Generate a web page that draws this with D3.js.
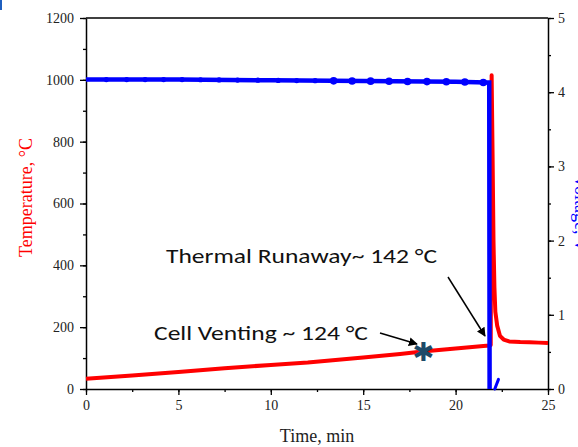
<!DOCTYPE html>
<html>
<head>
<meta charset="utf-8">
<script src="https://cdn.jsdelivr.net/npm/d3@7"></script>
<style>
  body { margin: 0; background: #fff; }
  svg { display: block; }
</style>
</head>
<body>
<div id="chart"></div>
<script>
// temperature trace (min, °C)
const tempTime = [0, 2.5, 5, 7.5, 10, 12, 13.5, 15, 17, 18.2, 20, 21.5, 21.85, 21.9, 21.95, 22.0, 22.05, 22.1, 22.15, 22.25, 22.4, 22.6, 22.9, 23.5, 24, 24.5, 25];
const tempVal  = [33, 44, 55, 67, 78, 86, 94, 102, 113, 121, 131, 139, 141, 142, 1015, 760, 480, 330, 250, 205, 172, 160, 154, 152, 151, 150, 149];

// voltage trace (min, V)
const voltTime = [0, 5, 10, 15, 20, 21.7, 21.82, 21.84];
const voltVal  = [4.17, 4.17, 4.16, 4.15, 4.14, 4.13, 4.13, 0];
const voltTail = [[22.12, 0], [22.32, 0.13]];
const markerTime = [1.1, 2.2, 3.2, 4.2, 5.2, 6.2, 7.2, 8.2, 9.3, 10.4, 11.4, 12.4, 13.4, 14.4, 15.4, 16.4, 17.4, 18.45, 19.5, 20.5, 21.5];

const xTicks = [0, 5, 10, 15, 20, 25];
const yTicks = [0, 200, 400, 600, 800, 1000, 1200];
const y2Ticks = [0, 1, 2, 3, 4, 5];

const W = 578, H = 447;
const margin = { left: 86, right: 30, top: 18, bottom: 58 };

const svg = d3.select('#chart').append('svg')
    .attr('width', W).attr('height', H);

const x = d3.scaleLinear().domain([0, 25]).range([margin.left, W - margin.right]);
const y = d3.scaleLinear().domain([0, 1200]).range([H - margin.bottom, margin.top]);
const y2 = d3.scaleLinear().domain([0, 5]).range([H - margin.bottom, margin.top]);

const serif = '"Liberation Serif", "Times New Roman", serif';
const fmt = d3.format('d');

// small blue mark in the corner
svg.append('rect').attr('x', 0).attr('y', 0).attr('width', 2).attr('height', 10).attr('fill', '#1f5fbf');

// frame
svg.append('line')
    .attr('x1', x(0)).attr('x2', x(25)).attr('y1', y(1200)).attr('y2', y(1200))
    .attr('stroke', '#000').attr('stroke-width', 1.5);

function styleAxis(g) {
    g.select('.domain').attr('stroke', '#000').attr('stroke-width', 1.5);
    g.selectAll('.tick line').attr('stroke', '#000').attr('stroke-width', 1.3);
    g.selectAll('text').style('font-family', serif).style('font-size', '14px').attr('fill', '#222');
}

// minor ticks
const minorX = d3.range(0, 25.01, 2.5);
const minorY = d3.range(0, 1200.1, 100);
const minorY2 = d3.range(0, 5.01, 0.5);

svg.append('g').attr('transform', `translate(0,${y(0)})`)
    .call(d3.axisBottom(x).tickValues(minorX).tickSize(3).tickFormat(''))
    .call(g => { g.select('.domain').remove(); g.selectAll('line').attr('stroke', '#000').attr('stroke-width', 1.3); });
svg.append('g').attr('transform', `translate(${x(0)},0)`)
    .call(d3.axisLeft(y).tickValues(minorY).tickSize(3).tickFormat(''))
    .call(g => { g.select('.domain').remove(); g.selectAll('line').attr('stroke', '#000').attr('stroke-width', 1.3); });
svg.append('g').attr('transform', `translate(${x(25)},0)`)
    .call(d3.axisRight(y2).tickValues(minorY2).tickSize(3).tickFormat(''))
    .call(g => { g.select('.domain').remove(); g.selectAll('line').attr('stroke', '#000').attr('stroke-width', 1.3); });

svg.append('g').attr('transform', `translate(0,${y(0)})`)
    .call(d3.axisBottom(x).tickValues(xTicks).tickFormat(fmt).tickSize(6).tickPadding(5).tickSizeOuter(0))
    .call(styleAxis);
svg.append('g').attr('transform', `translate(${x(0)},0)`)
    .call(d3.axisLeft(y).tickValues(yTicks).tickFormat(fmt).tickSize(6).tickPadding(6).tickSizeOuter(0))
    .call(styleAxis);
svg.append('g').attr('transform', `translate(${x(25)},0)`)
    .call(d3.axisRight(y2).tickValues(y2Ticks).tickFormat(fmt).tickSize(6).tickPadding(4).tickSizeOuter(0))
    .call(styleAxis);

// axis titles
svg.append('text')
    .attr('x', (x(0) + x(25)) / 2).attr('y', 442)
    .attr('text-anchor', 'middle')
    .style('font-family', serif).style('font-size', '18px').attr('fill', '#222')
    .text('Time, min');
svg.append('text')
    .attr('transform', `translate(32,${(y(0) + y(1200)) / 2 - 6}) rotate(-90)`)
    .attr('text-anchor', 'middle')
    .style('font-family', serif).style('font-size', '18px').attr('fill', '#ff0000')
    .text('Temperature, °C');
svg.append('text')
    .attr('transform', `translate(575,${(y(0) + y(1200)) / 2 + 10}) rotate(90)`)
    .attr('text-anchor', 'middle')
    .style('font-family', serif).style('font-size', '18px').attr('fill', '#0000ff')
    .text('Voltage, V');

// temperature line
const tempData = tempTime.map((t, i) => [t, tempVal[i]]);
svg.append('path')
    .datum(tempData)
    .attr('fill', 'none').attr('stroke', '#ff0000').attr('stroke-width', 4)
    .attr('stroke-linejoin', 'round')
    .attr('d', d3.line().x(d => x(d[0])).y(d => y(d[1])));

// voltage line
const voltData = voltTime.map((t, i) => [t, voltVal[i]]);
const vline = d3.line().x(d => x(d[0])).y(d => y2(d[1]));
svg.append('path')
    .datum(voltData)
    .attr('fill', 'none').attr('stroke', '#0000ff').attr('stroke-width', 4.5)
    .attr('d', vline);
svg.append('path')
    .datum(voltTail)
    .attr('fill', 'none').attr('stroke', '#0000ff').attr('stroke-width', 3)
    .attr('stroke-linecap', 'round')
    .attr('d', vline);

const voltAt = d3.scaleLinear().domain(voltTime.slice(0, 6)).range(voltVal.slice(0, 6));
svg.selectAll('.vmark')
    .data(markerTime)
    .enter().append('circle')
    .attr('class', 'vmark')
    .attr('cx', d => x(d))
    .attr('cy', d => y2(voltAt(d)))
    .attr('r', d => d > 13 ? 3.8 : 2.6)
    .attr('fill', '#0000ff');

// cell venting star
svg.append('text')
    .attr('x', x(18.2) + 1).attr('y', y(124) + 10)
    .attr('text-anchor', 'middle')
    .style('font-family', '"DejaVu Sans", sans-serif').style('font-size', '26px').style('font-weight', 'bold')
    .attr('fill', '#1d4a68')
    .text('\u2731');

// annotations
svg.append('defs').append('marker')
    .attr('id', 'arrow').attr('viewBox', '0 0 10 10')
    .attr('refX', 9).attr('refY', 5)
    .attr('markerWidth', 9).attr('markerHeight', 9)
    .attr('markerUnits', 'userSpaceOnUse')
    .attr('orient', 'auto')
    .append('path').attr('d', 'M0,0 L10,5 L0,10 z').attr('fill', '#000');

const calibri = 'Carlito, Calibri, "Open Sans", sans-serif';
svg.append('text')
    .attr('x', 166).attr('y', 263)
    .style('font-family', calibri).style('font-size', '20px').attr('fill', '#111')
    .attr('textLength', 271).attr('lengthAdjust', 'spacingAndGlyphs')
    .text('Thermal Runaway~ 142 °C');
svg.append('text')
    .attr('x', 154).attr('y', 340)
    .style('font-family', calibri).style('font-size', '20px').attr('fill', '#111')
    .attr('textLength', 214).attr('lengthAdjust', 'spacingAndGlyphs')
    .text('Cell Venting ~ 124 °C');

svg.append('line')
    .attr('x1', 448).attr('y1', 277).attr('x2', 485).attr('y2', 336)
    .attr('stroke', '#000').attr('stroke-width', 1.5).attr('marker-end', 'url(#arrow)');
svg.append('line')
    .attr('x1', 380).attr('y1', 333).attr('x2', 417).attr('y2', 344)
    .attr('stroke', '#000').attr('stroke-width', 1.5).attr('marker-end', 'url(#arrow)');
</script>
</body>
</html>
